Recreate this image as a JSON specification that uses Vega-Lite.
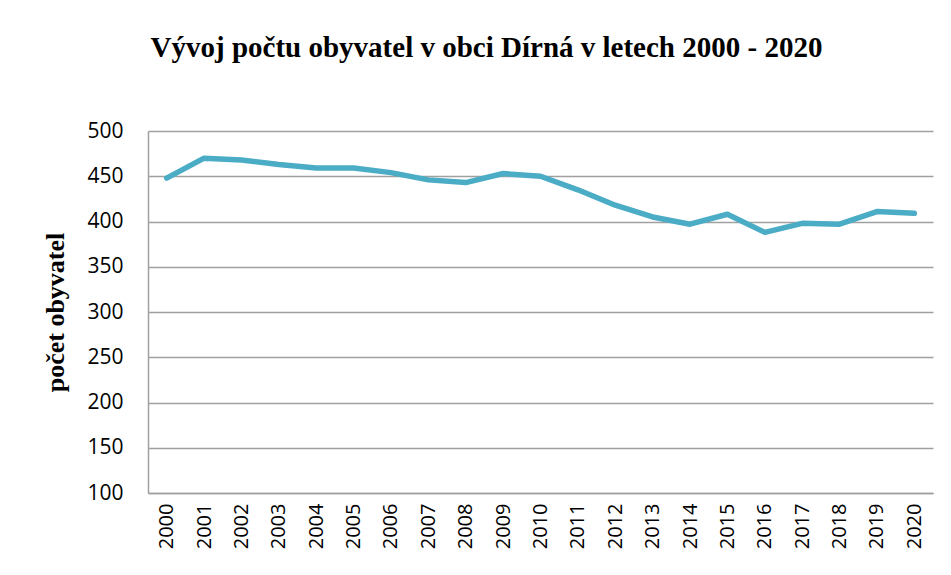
{
  "$schema": "https://vega.github.io/schema/vega-lite/v6.json",
  "width": 785,
  "height": 362,
  "autosize": {"type": "none"},
  "padding": {"left": 148, "top": 131, "right": 18, "bottom": 82},
  "background": "white",
  "title": {
    "text": "Vývoj počtu obyvatel v obci Dírná v letech 2000 - 2020",
    "font": "Liberation Serif",
    "fontSize": 29,
    "fontWeight": "bold",
    "color": "#000000",
    "anchor": "middle",
    "dx": -54,
    "offset": 57
  },
  "data": {
    "values": [
      {"rok": "2000", "pocet": 448},
      {"rok": "2001", "pocet": 470},
      {"rok": "2002", "pocet": 468},
      {"rok": "2003", "pocet": 463},
      {"rok": "2004", "pocet": 459},
      {"rok": "2005", "pocet": 459},
      {"rok": "2006", "pocet": 454},
      {"rok": "2007", "pocet": 446},
      {"rok": "2008", "pocet": 443},
      {"rok": "2009", "pocet": 453},
      {"rok": "2010", "pocet": 450},
      {"rok": "2011", "pocet": 435},
      {"rok": "2012", "pocet": 418},
      {"rok": "2013", "pocet": 405},
      {"rok": "2014", "pocet": 397},
      {"rok": "2015", "pocet": 408},
      {"rok": "2016", "pocet": 388},
      {"rok": "2017", "pocet": 398},
      {"rok": "2018", "pocet": 397},
      {"rok": "2019", "pocet": 411},
      {"rok": "2020", "pocet": 409}
    ]
  },
  "mark": {"type": "line", "color": "#4BACC6", "strokeWidth": 5.5, "strokeCap": "round", "strokeJoin": "round"},
  "encoding": {
    "x": {
      "field": "rok",
      "type": "ordinal",
      "scale": {"type": "point", "padding": 0.5},
      "axis": {
        "title": null,
        "labelAngle": -90,
        "labelFont": "Open Sans",
        "labelFontSize": 20,
        "labelColor": "#000000",
        "labelPadding": 10,
        "ticks": false,
        "domainColor": "#a0a0a0",
        "domainWidth": 1.5,
        "grid": false
      }
    },
    "y": {
      "field": "pocet",
      "type": "quantitative",
      "scale": {"domain": [100, 500], "nice": false, "zero": false},
      "axis": {
        "title": "počet obyvatel",
        "titleFont": "Liberation Serif",
        "titleFontSize": 26,
        "titleFontWeight": "bold",
        "titleColor": "#000000",
        "titlePadding": 18,
        "values": [100, 150, 200, 250, 300, 350, 400, 450, 500],
        "labelFont": "Open Sans",
        "labelFontSize": 21,
        "labelColor": "#000000",
        "labelPadding": 25,
        "ticks": false,
        "domainColor": "#a0a0a0",
        "domainWidth": 1.5,
        "gridColor": "#a0a0a0",
        "gridWidth": 1.5
      }
    }
  },
  "config": {"view": {"stroke": null}}
}
